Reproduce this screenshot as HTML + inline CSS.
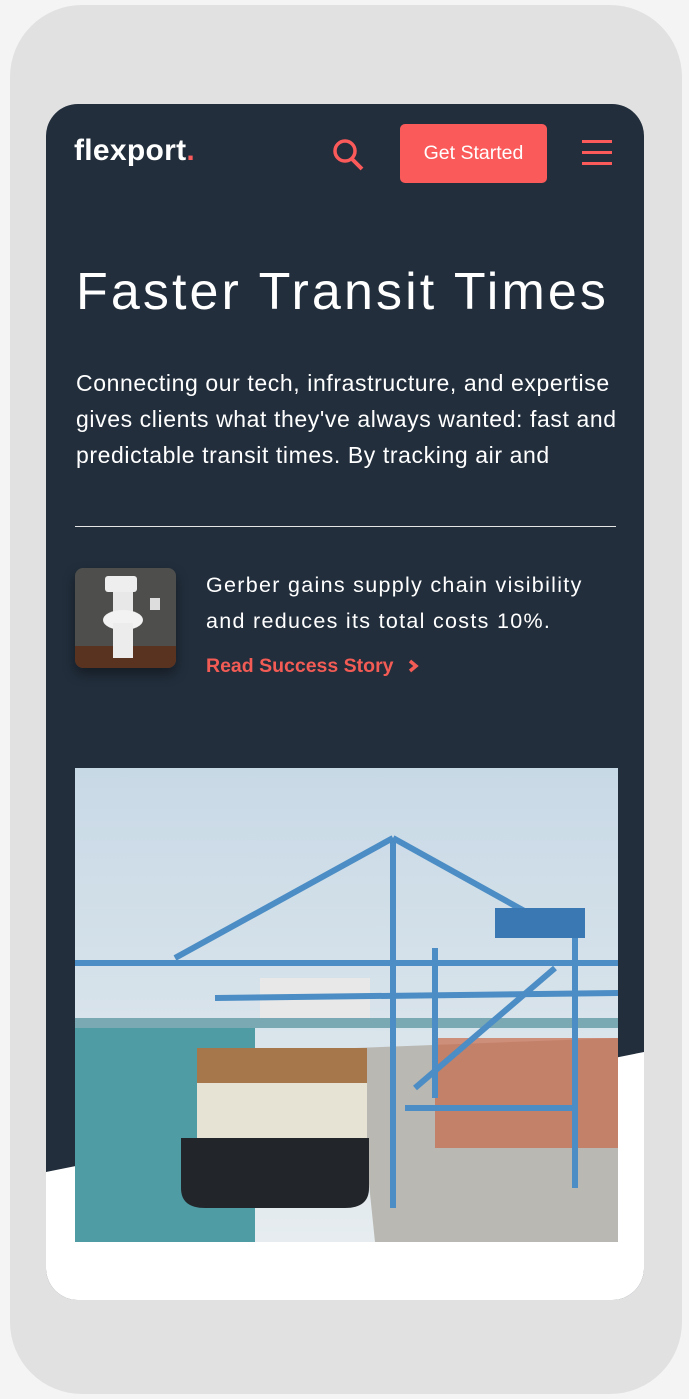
<!DOCTYPE html>
<html><head><meta charset="utf-8"><style>
*{margin:0;padding:0;box-sizing:border-box}
body{width:689px;height:1399px;background:#f4f4f4;position:relative;overflow:hidden;font-family:"Liberation Sans",sans-serif}
#frame{position:absolute;left:10px;top:5px;width:672px;height:1389px;background:#e1e1e1;border-radius:72px}
#screen{position:absolute;left:46px;top:104px;width:598px;height:1196px;background:#222e3c;border-radius:32px;overflow:hidden}
.abs{position:absolute}
#logo{left:28px;top:30px;color:#fff;font-weight:bold;font-size:30px;letter-spacing:0.3px}
#logo span{color:#fa5a5a}
#btn{left:354px;top:20px;width:147px;height:59px;background:#fa5a5a;border-radius:5px;color:#fff;font-size:19.5px;text-align:center;line-height:59px}
h1{left:30px;top:158px;color:#fff;font-size:52px;font-weight:normal;letter-spacing:3.1px;white-space:nowrap}
#p{left:30px;top:261px;width:570px;color:#fff;font-size:23px;line-height:36px;letter-spacing:0.6px;white-space:nowrap}
#rule{left:29px;top:422px;width:541px;height:1px;background:#e5e5e5}
#thumb{left:29px;top:464px;width:101px;height:100px;border-radius:8px;background:linear-gradient(#4e4f4c 0 78%,#5a3320 78%);box-shadow:0 6px 12px rgba(0,0,0,.4);overflow:hidden}
#story{left:160px;top:463px;color:#fff;font-size:21.5px;line-height:36px;letter-spacing:1.3px;white-space:nowrap}
#link{left:160px;top:551px;color:#f35b55;font-size:19.5px;font-weight:bold}
</style></head><body>
<div id="frame"></div>
<div id="screen">
<svg class="abs" style="left:0;top:0" width="598" height="1196"><polygon points="0,1068 598,948 598,1196 0,1196" fill="#fff"/></svg>
<div id="logo" class="abs">flexport<span>.</span></div>
<svg class="abs" style="left:285px;top:34px" width="36" height="36"><circle cx="14" cy="13" r="10" fill="none" stroke="#fa5a5a" stroke-width="3.5"/><line x1="21" y1="21" x2="31" y2="31" stroke="#fa5a5a" stroke-width="4"/></svg>
<div id="btn" class="abs">Get Started</div>
<svg class="abs" style="left:536px;top:36px" width="32" height="26"><rect x="0" y="0" width="30" height="3" fill="#fa5a5a"/><rect x="0" y="11" width="30" height="3" fill="#fa5a5a"/><rect x="0" y="22" width="30" height="3" fill="#fa5a5a"/></svg>
<h1 class="abs">Faster Transit Times</h1>
<div id="p" class="abs">Connecting our tech, infrastructure, and expertise<br>gives clients what they've always wanted: fast and<br>predictable transit times. By tracking air and</div>
<div id="rule" class="abs"></div>
<div id="thumb" class="abs"><svg width="101" height="100"><rect x="30" y="8" width="32" height="16" rx="3" fill="#eee"/><rect x="38" y="24" width="20" height="22" fill="#e8e8e8"/><ellipse cx="48" cy="52" rx="20" ry="10" fill="#f2f2f2"/><rect x="38" y="55" width="20" height="35" fill="#ececec"/><rect x="75" y="30" width="10" height="12" fill="#ddd"/></svg></div>
<div id="story" class="abs">Gerber gains supply chain visibility<br>and reduces its total costs 10%.</div>
<div id="link" class="abs">Read Success Story <svg width="14" height="14" style="margin-left:8px;vertical-align:-1px"><polyline points="3,2 9,7 3,12" fill="none" stroke="#f35b55" stroke-width="3.5"/></svg></div>
<svg class="abs" style="left:29px;top:664px" width="543" height="474">
<defs><linearGradient id="sky" x1="0" y1="0" x2="0" y2="1"><stop offset="0" stop-color="#c8d9e6"/><stop offset="1" stop-color="#e6ecef"/></linearGradient></defs>
<rect width="543" height="474" fill="url(#sky)"/>
<polygon points="0,250 180,250 180,474 0,474" fill="#4f9ca4"/>
<rect x="0" y="250" width="543" height="10" fill="#7aa8b3"/>
<polygon points="280,280 543,270 543,474 300,474" fill="#b9b8b2"/>
<rect x="360" y="270" width="183" height="110" fill="#c86a4a" opacity=".7"/>
<rect x="185" y="210" width="110" height="40" fill="#e8e8e8"/>
<rect x="122" y="280" width="170" height="90" fill="#e6e2d4"/>
<rect x="122" y="280" width="170" height="35" fill="#a7774c"/>
<path d="M106,370 H294 V420 Q294,440 270,440 H130 Q106,440 106,420 Z" fill="#22262b"/>
<g stroke="#4b8dc4" stroke-width="6" fill="none">
<line x1="0" y1="195" x2="543" y2="195"/><line x1="140" y1="230" x2="543" y2="225"/>
<line x1="318" y1="70" x2="318" y2="440"/><line x1="500" y1="150" x2="500" y2="420"/>
<line x1="318" y1="70" x2="100" y2="190"/><line x1="318" y1="70" x2="480" y2="160"/>
<line x1="330" y1="340" x2="500" y2="340"/><line x1="340" y1="320" x2="480" y2="200"/>
<line x1="360" y1="180" x2="360" y2="330"/>
</g>
<rect x="420" y="140" width="90" height="30" fill="#3a78b3"/>
</svg>
</div>
</body></html>
